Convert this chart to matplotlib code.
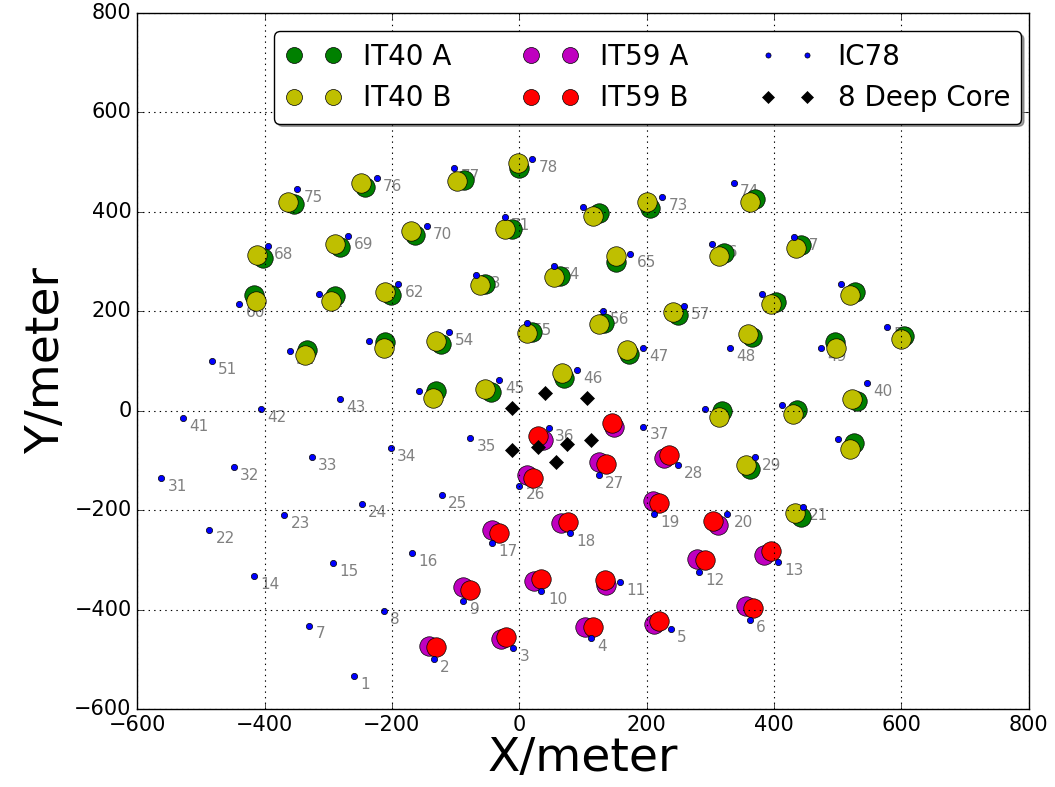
import matplotlib
matplotlib.use("Agg")
import matplotlib.pyplot as plt

# IC78 string positions (x, y) in metres, string number = index + 1
ic78_x = [-260, -134, -9, 113, 238, 362, -330, -213, -88, 35,
          158, 283, 406, -417, -292, -168, -43, 80, 211, 327,
          445, -487, -369, -247, -122, 0, 125, 249, 371, 500,
          -562, -448, -326, -202, -77, 46, 195, 292, 412, 546,
          -528, -405, -281, -157, -32, 91, 195, 331, 474, 578,
          -483, -360, -236, -111, 12, 132, 259, 382, 505, -440,
          -315, -190, -68, 55, 174, 303, 431, -395, -269, -145,
          -23, 100, 225, 337, -349, -224, -102, 20]
ic78_y = [-533, -499, -478, -458, -439, -420, -432, -403, -383, -363,
          -344, -325, -305, -333, -307, -287, -267, -247, -208, -208,
          -194, -241, -209, -188, -170, -151, -130, -110, -93, -58,
          -136, -113, -93, -75, -55, -35, -32, 3, 12, 55,
          -15, 3, 24, 40, 61, 81, 125, 125, 125, 169,
          99, 119, 139, 157, 177, 200, 210, 235, 255, 215,
          235, 255, 273, 291, 314, 334, 348, 330, 350, 371,
          389, 409, 430, 458, 446, 467, 487, 505]

# IceTop 40 stations: tank A and tank B positions
it40_ids = [21, 29, 30, 38, 39, 40, 44, 45, 46, 47, 48, 49, 50, 52, 53, 54,
            55, 56, 57, 58, 59, 60, 61, 62, 63, 64, 65, 66, 67, 68, 69, 70,
            71, 72, 73, 74, 75, 76, 77, 78]
it40a_x = [443, 363, 525, 318, 436, 531, -130, -45, 71, 173, 366, 496, 605,
           -333, -210, -123, 20, 133, 250, 403, 527, -417, -289, -202, -53,
           64, 152, 321, 443, -403, -281, -163, -12, 125, 206, 371, -353,
           -242, -86, 0]
it40a_y = [-213, -117, -66, -1, 2, 19, 39, 38, 65, 113, 147, 137, 150,
           122, 137, 133, 158, 177, 192, 219, 238, 233, 231, 233, 255,
           271, 298, 316, 332, 307, 328, 352, 365, 397, 408, 426, 416,
           449, 464, 488]
it40b_x = [433, 356, 519, 313, 430, 523, -136, -53, 67, 170, 359, 498, 599,
           -337, -213, -131, 12, 126, 241, 395, 519, -414, -295, -211, -61,
           55, 152, 313, 434, -411, -290, -170, -23, 116, 201, 363, -363,
           -249, -97, -2]
it40b_y = [-206, -109, -77, -13, -6, 24, 26, 44, 76, 121, 153, 126, 143,
           111, 125, 139, 156, 175, 198, 214, 233, 221, 220, 238, 252,
           269, 310, 311, 327, 313, 334, 360, 366, 391, 420, 420, 420,
           458, 462, 498]

# IceTop 59 additional stations: tank A and tank B positions
it59_ids = [2, 3, 4, 5, 6, 9, 10, 11, 12, 13, 17, 18, 19, 20, 26, 27, 28, 36, 37]
it59a_x = [-141, -29, 104, 211, 356, -88, 24, 136, 279, 385, -42, 66, 210,
           312, 12, 126, 227, 37, 149]
it59a_y = [-474, -460, -435, -429, -393, -355, -342, -350, -298, -290,
           -241, -226, -182, -229, -129, -103, -95, -60, -32]
it59b_x = [-131, -20, 116, 220, 367, -77, 34, 134, 291, 395, -31, 77, 220,
           305, 22, 137, 235, 29, 145]
it59b_y = [-475, -456, -435, -423, -396, -360, -338, -341, -301, -283,
           -247, -224, -186, -221, -135, -107, -89, -52, -24]

# DeepCore strings
dc_x = [-11, 40, 107, -11, 29, 75, 113, 57]
dc_y = [5, 35, 26, -80, -74, -67, -60, -104]

plt.style.use("classic")
plt.rcParams["figure.facecolor"] = "white"
plt.rcParams["savefig.facecolor"] = "white"
plt.rcParams["font.family"] = ["DejaVu Sans"]

fig = plt.figure(figsize=(10.55, 7.87), dpi=100)
ax = fig.add_axes([0.130, 0.099, 0.845, 0.885])

tank_ms = 14
ax.plot(it40a_x, it40a_y, "o", color=(0, 0.5, 0), mec="k", mew=0.5,
        ms=tank_ms, label="IT40 A", zorder=2)
ax.plot(it40b_x, it40b_y, "o", color=(0.75, 0.75, 0), mec="k", mew=0.5,
        ms=tank_ms, label="IT40 B", zorder=2)
ax.plot(it59a_x, it59a_y, "o", color=(0.75, 0, 0.75), mec="k", mew=0.5,
        ms=tank_ms, label="IT59 A", zorder=2)
ax.plot(it59b_x, it59b_y, "o", color=(1, 0, 0), mec="k", mew=0.5,
        ms=tank_ms, label="IT59 B", zorder=2)
ax.plot(ic78_x, ic78_y, "o", color=(0, 0, 1), mec="k", mew=0.5,
        ms=4.5, label="IC78", zorder=2)
ax.plot(dc_x, dc_y, "D", color="k", mec="k", mew=0.5, ms=7,
        label="8 Deep Core", zorder=2)

for i, (x, y) in enumerate(zip(ic78_x, ic78_y)):
    ax.text(x + 10, y - 26, str(i + 1), color="gray", fontsize=11,
            ha="left", va="baseline", zorder=1)

ax.set_xlim(-600, 800)
ax.set_ylim(-600, 800)
ax.grid(True, linestyle=":", color="k", linewidth=0.8)
ax.tick_params(labelsize=15)
ax.set_xlabel("X/meter", fontsize=34, labelpad=1)
ax.set_ylabel("Y/meter", fontsize=34, labelpad=4)

leg = ax.legend(loc="upper left", bbox_to_anchor=(0.154, 0.973),
                borderaxespad=0, ncol=3, numpoints=2, fancybox=True,
                shadow=True, fontsize=20, markerscale=0.82,
                columnspacing=2.55, handletextpad=0.8, handlelength=2.0)

fig.savefig("out.png", dpi=100)
